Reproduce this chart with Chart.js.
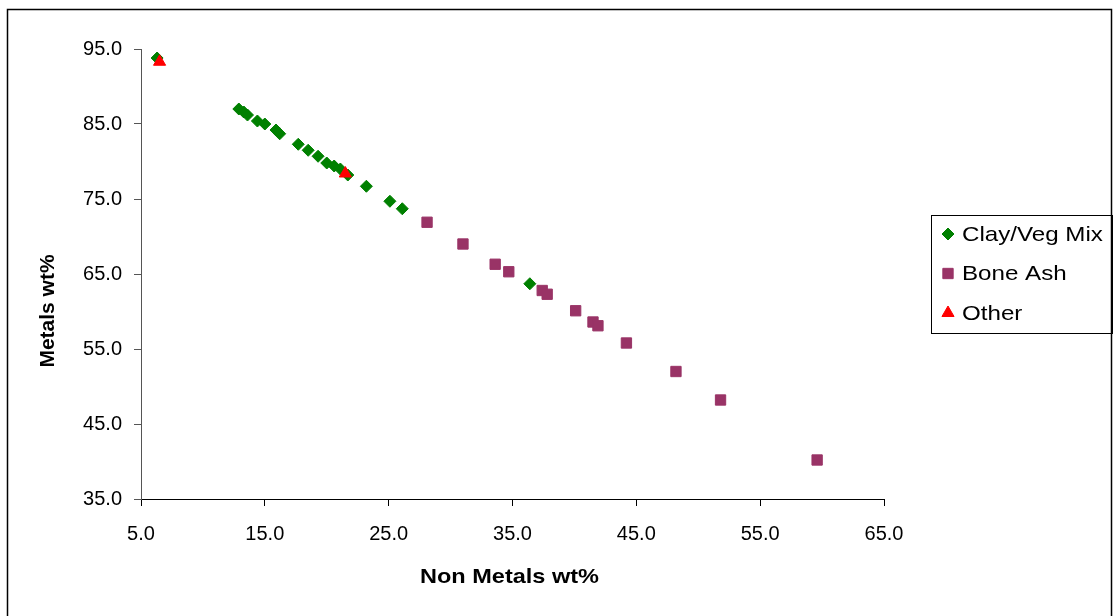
<!DOCTYPE html>
<html lang="en">
  <head>
    <meta charset="UTF-8" />
    <title>Metals vs Non Metals</title>
    <script src="https://cdn.jsdelivr.net/npm/chart.js"></script>
    <style>
      body { margin: 0; background: #fff; }
      #wrap { width: 1113px; height: 616px; }
    </style>
  </head>
  <body>
    <div id="wrap"><canvas id="myChart" width="1113" height="616"></canvas></div>
    <script>
      // series names
      var seriesNames = ["Clay/Veg Mix", "Bone Ash", "Other"]

      // Clay/Veg Mix
      var clayX = [6.3, 12.9, 13.3, 13.6, 14.4, 15.0, 15.9, 16.2, 17.7, 18.5, 19.3, 20.0, 20.6, 21.1, 21.7, 23.2, 25.1, 26.1, 36.4]
      var clayY = [93.8, 87.0, 86.6, 86.2, 85.4, 85.0, 84.2, 83.7, 82.3, 81.5, 80.7, 79.8, 79.4, 79.0, 78.2, 76.7, 74.7, 73.7, 63.7]

      // Bone Ash
      var boneX = [28.1, 31.0, 33.6, 34.7, 37.4, 37.8, 40.1, 41.5, 41.9, 44.2, 48.2, 51.8, 59.6]
      var boneY = [71.9, 69.0, 66.3, 65.3, 62.8, 62.3, 60.1, 58.6, 58.1, 55.8, 52.0, 48.2, 40.2]

      // Other
      var otherX = [6.5, 21.5]
      var otherY = [93.3, 78.4]

      // axis ticks and titles
      var xTicks = [5, 15, 25, 35, 45, 55, 65]
      var yTicks = [35, 45, 55, 65, 75, 85, 95]
      var xTitle = "Non Metals wt%"
      var yTitle = "Metals wt%"

      function toPoints(xs, ys) {
        return xs.map(function (x, i) {
          return { x: x, y: ys[i] }
        })
      }

      var FONT = "'Liberation Sans', Arial, sans-serif"

      // white background + outer frame
      var framePlugin = {
        id: "frame",
        beforeDraw: function (chart) {
          var c = chart.ctx
          c.save()
          c.fillStyle = "#fff"
          c.fillRect(0, 0, chart.width, chart.height)
          c.restore()
        },
        afterDraw: function (chart) {
          var c = chart.ctx
          c.save()
          c.strokeStyle = "#000"
          c.lineWidth = 1.5
          c.strokeRect(7.5, 9.5, 1104, 700)
          c.restore()
        },
      }

      // axis titles, drawn slightly wide like the old office renderer
      var axisTitles = {
        id: "axisTitles",
        afterDraw: function (chart) {
          var c = chart.ctx
          var area = chart.chartArea
          c.save()
          c.fillStyle = "#000"
          c.font = "bold 21px " + FONT
          c.textAlign = "center"
          c.textBaseline = "middle"

          c.save()
          c.translate((area.left + area.right) / 2 - 3, 577)
          c.scale(1.12, 1)
          c.fillText(xTitle, 0, 0)
          c.restore()

          c.save()
          c.translate(48, 311)
          c.rotate(-Math.PI / 2)
          c.fillText(yTitle, 0, 0)
          c.restore()

          c.restore()
        },
      }

      // boxed legend on the right
      var boxLegend = {
        id: "boxLegend",
        afterDraw: function (chart) {
          var c = chart.ctx
          var left = 931, top = 215, w = 181, h = 118
          c.save()
          c.strokeStyle = "#000"
          c.lineWidth = 1
          c.strokeRect(left + 0.5, top + 0.5, w, h)
          chart.data.datasets.forEach(function (ds, i) {
            var y = top + 19 + i * 39.5
            c.fillStyle = ds.backgroundColor
            c.strokeStyle = ds.borderColor
            c.lineWidth = 1
            Chart.helpers.drawPoint(c, {
              pointStyle: ds.pointStyle,
              radius: ds.pointRadius,
              rotation: 0,
              borderWidth: 1,
            }, left + 17, y)
            c.fillStyle = "#000"
            c.font = "21px " + FONT
            c.textBaseline = "middle"
            c.save()
            c.translate(left + 31, y + 1)
            c.scale(1.15, 1)
            c.fillText(ds.label, 0, 0)
            c.restore()
          })
          c.restore()
        },
      }

      var ctx = document.getElementById("myChart").getContext("2d")

      new Chart(ctx, {
        type: "scatter",
        data: {
          datasets: [
            {
              label: seriesNames[0],
              data: toPoints(clayX, clayY),
              pointStyle: "rectRot",
              pointRadius: 6,
              backgroundColor: "#008000",
              borderColor: "#008000",
              borderWidth: 1,
              order: 2,
            },
            {
              label: seriesNames[1],
              data: toPoints(boneX, boneY),
              pointStyle: "rect",
              pointRadius: 7.3,
              backgroundColor: "#993366",
              borderColor: "#993366",
              borderWidth: 1,
              order: 1,
            },
            {
              label: seriesNames[2],
              data: toPoints(otherX, otherY),
              pointStyle: "triangle",
              pointRadius: 7,
              backgroundColor: "#ff0000",
              borderColor: "#ff0000",
              borderWidth: 1,
              order: 0,
            },
          ],
        },
        options: {
          responsive: false,
          animation: false,
          devicePixelRatio: 1,
          layout: { padding: { left: 0, top: 49, right: 229, bottom: 0 } },
          plugins: {
            legend: { display: false },
            tooltip: { enabled: false },
          },
          scales: {
            x: {
              type: "linear",
              min: xTicks[0],
              max: xTicks[xTicks.length - 1],
              afterBuildTicks: function (scale) {
                scale.ticks = xTicks.map(function (v) { return { value: v } })
              },
              afterFit: function (scale) { scale.height = 117 },
              grid: { drawOnChartArea: false, tickLength: 7, color: "#000" },
              border: { color: "#000", width: 1 },
              ticks: {
                color: "#000",
                padding: 16,
                maxRotation: 0,
                font: { family: FONT, size: 20 },
                callback: function (v) { return Number(v).toFixed(1) },
              },
            },
            y: {
              type: "linear",
              min: yTicks[0],
              max: yTicks[yTicks.length - 1],
              afterBuildTicks: function (scale) {
                scale.ticks = yTicks.map(function (v) { return { value: v } })
              },
              afterFit: function (scale) { scale.width = 141 },
              grid: { drawOnChartArea: false, tickLength: 7, color: "#555" },
              border: { color: "#555", width: 1 },
              ticks: {
                color: "#000",
                padding: 12,
                font: { family: FONT, size: 20 },
                callback: function (v) { return Number(v).toFixed(1) },
              },
            },
          },
        },
        plugins: [framePlugin, axisTitles, boxLegend],
      })
    </script>
  </body>
</html>
